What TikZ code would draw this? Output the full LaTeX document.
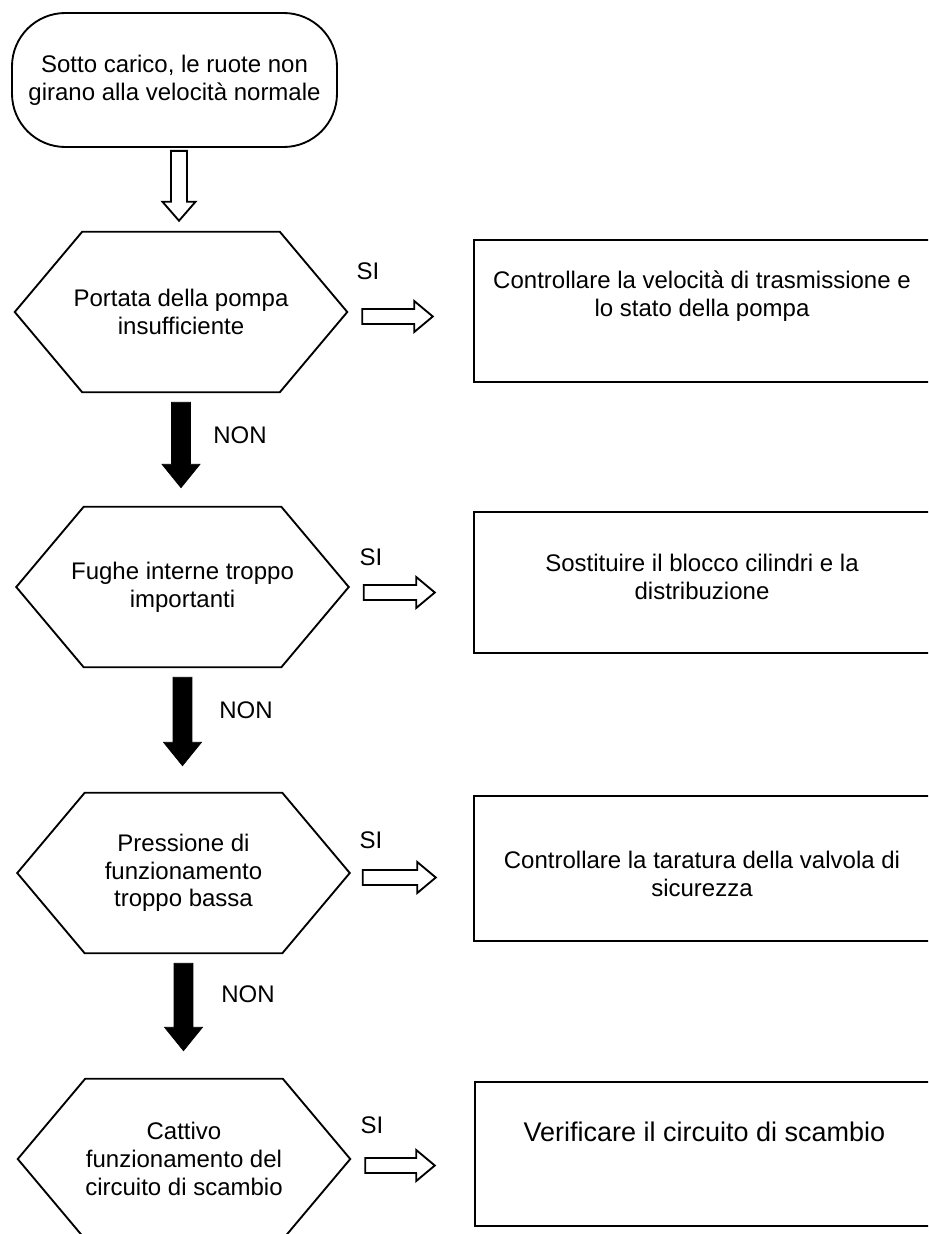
\documentclass[tikz,border=0pt]{standalone}
\usepackage{fontspec}
\setmainfont{Liberation Sans}
\usetikzlibrary{calc}

% block arrow pointing down: style, start, tip, shaft half width, head half width, head length
\newcommand\downblock[6]{%
  \draw[#1] let \p1=(#2), \p2=(#3) in
    (\x1-#4,\y1) -- (\x1+#4,\y1) -- (\x1+#4,\y2+#6) -- (\x1+#5,\y2+#6) --
    (\x1,\y2) -- (\x1-#5,\y2+#6) -- (\x1-#4,\y2+#6) -- cycle;}
% block arrow pointing right: style, start, tip, shaft half width, head half width, head length
\newcommand\rightblock[6]{%
  \draw[#1] let \p1=(#2), \p2=(#3) in
    (\x1,\y1+#4) -- (\x2-#6,\y1+#4) -- (\x2-#6,\y1+#5) -- (\x2,\y1) --
    (\x2-#6,\y1-#5) -- (\x2-#6,\y1-#4) -- (\x1,\y1-#4) -- cycle;}
% hexagonal decision outline around a named node
\newcommand\hexoutline[1]{%
  \draw[hexline] (#1.west) -- ([xshift=50.6pt]#1.north west) -- ([xshift=-50.6pt]#1.north east)
    -- (#1.east) -- ([xshift=-50.6pt]#1.south east) -- ([xshift=50.6pt]#1.south west) -- cycle;}

\begin{document}
\begin{tikzpicture}[x=0.75pt,y=0.75pt,
  txt/.style={font=\fontsize{18}{20.7}\selectfont, align=center, inner sep=0pt},
  terminal/.style={txt, draw, line width=1.4pt, rounded corners=40pt,
    minimum width=243.75pt, minimum height=100.5pt},
  hexnode/.style={txt, minimum width=249pt, minimum height=120pt},
  hexline/.style={line width=1.4pt, line join=miter},
  actionbox/.style={draw, line width=1.8pt, minimum width=343.5pt, inner sep=0pt},
  hollow/.style={draw=black, fill=white, line width=1.4pt, line join=miter},
  solid/.style={draw=black, fill=black, line width=0.5pt}]

\useasboundingbox (0,0) rectangle (928,-1234);
\clip (0,0) rectangle (928,-1234);
\fill[white] (0,0) rectangle (928,-1234);

% start
\node[terminal] (start) at (174.5,-80) {Sotto carico, le ruote non\\girano alla velocità normale};

% decisions
\node[hexnode] (h1) at (181,-312) {Portata della pompa\\insufficiente};
\node[hexnode] (h2) at (182.5,-587) {Fughe interne troppo\\importanti};
\node[hexnode] (h3) at (183.5,-873) {Pressione di\\funzionamento\\troppo bassa};
\node[hexnode] (h4) at (184,-1159) {Cattivo\\funzionamento del\\circuito di scambio};
\hexoutline{h1}
\hexoutline{h2}
\hexoutline{h3}
\hexoutline{h4}

% actions
\node[actionbox, minimum height=106.5pt] (b1) at (703,-311) {};
\node[actionbox, minimum height=105.75pt] (b2) at (703,-582.5) {};
\node[actionbox, minimum height=108.75pt] (b3) at (703,-868.5) {};
\node[actionbox, minimum height=108pt] (b4) at (704,-1154) {};
\node[txt] (b1t) at (702,-296) {Controllare la velocità di trasmissione e\\lo stato della pompa};
\node[txt] (b2t) at (702,-577) {Sostituire il blocco cilindri e la\\distribuzione};
\node[txt] (b3t) at (702,-874) {Controllare la taratura della valvola di\\sicurezza};
\node[txt, font=\fontsize{20.25}{23}\selectfont] (b4t) at (704.5,-1132) {Verificare il circuito di scambio};

% start -> first decision
\coordinate (a0s) at ($(start.south -| h1.north)+(-2,-3)$);
\coordinate (a0e) at ($(h1.north)+(-2,11)$);
\downblock{hollow}{a0s}{a0e}{6pt}{12.4pt}{14.25pt}

% NON branches
\downblock{solid}{$(h1.south)+(0,-10)$}{$(h2.north)+(0,19)$}{7.1pt}{14.25pt}{17.6pt}
\downblock{solid}{$(h2.south)+(0,-10)$}{$(h3.north)+(0,27)$}{7.1pt}{14.25pt}{17.6pt}
\downblock{solid}{$(h3.south)+(0,-10)$}{$(h4.north)+(0,28)$}{7.1pt}{14.25pt}{17.6pt}
\node[txt] (n1) at (240,-435) {NON};
\node[txt] (n2) at (246,-710) {NON};
\node[txt] (n3) at (248,-994) {NON};

% SI branches
\rightblock{hollow}{$(h1.east)+(15,-4.5)$}{$(b1.west)+(-40,0)$}{5.6pt}{11.6pt}{13.9pt}
\rightblock{hollow}{$(h2.east)+(15,-5.5)$}{$(b2.west)+(-38,0)$}{5.6pt}{11.6pt}{13.9pt}
\rightblock{hollow}{$(h3.east)+(13,-4.5)$}{$(b3.west)+(-37,0)$}{5.6pt}{11.6pt}{13.9pt}
\rightblock{hollow}{$(h4.east)+(15,-6.5)$}{$(b4.west)+(-39,0)$}{5.6pt}{11.6pt}{13.9pt}
\node[txt] (s1) at (368,-271) {SI};
\node[txt] (s2) at (371,-557) {SI};
\node[txt] (s3) at (371,-840) {SI};
\node[txt] (s4) at (372,-1125) {SI};

\end{tikzpicture}
\end{document}
